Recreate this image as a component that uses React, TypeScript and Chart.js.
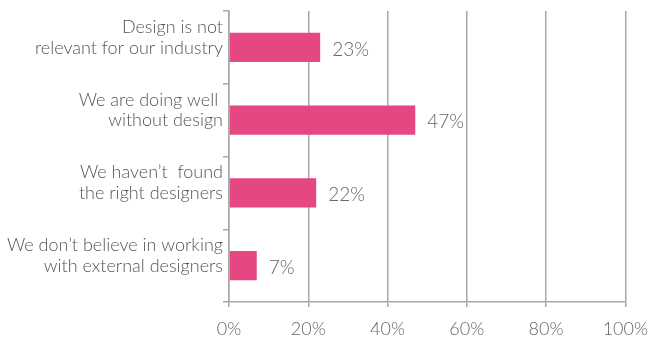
import React, { useEffect, useRef } from "react";
import { Chart, registerables } from "chart.js";

Chart.register(...registerables);

const categories: string[][] = [
  ["Design is not", "relevant for our industry"],
  ["We are doing well ", "without design"],
  ["We haven’t  found", "the right designers"],
  ["We don’t believe in working", "with external designers"],
];
const values: number[] = [23, 47, 22, 7];
const xTicks: number[] = [0, 20, 40, 60, 80, 100];

const FONT = "Lato";
const GRID = "#a8a8a8";
const TEXT = "#555555";

const valueLabels = {
  id: "valueLabels",
  afterDatasetsDraw(chart: any) {
    const ctx = chart.ctx;
    const meta = chart.getDatasetMeta(0);
    ctx.save();
    ctx.font = `300 19px ${FONT}`;
    ctx.fillStyle = "#666666";
    ctx.textAlign = "left";
    ctx.textBaseline = "middle";
    meta.data.forEach((el: any, i: number) => {
      ctx.fillText(values[i] + "%", el.x + 12, el.y + 2);
    });
    ctx.restore();
  },
};

export default function App() {
  const ref = useRef<HTMLCanvasElement>(null);
  useEffect(() => {
    if (!ref.current) return;
    const chart = new Chart(ref.current, {
      type: "bar",
      data: {
        labels: categories,
        datasets: [
          {
            data: values,
            backgroundColor: "#e54783",
            borderWidth: 0,
            barPercentage: 0.4,
            categoryPercentage: 1,
          },
        ],
      },
      options: {
        indexAxis: "y",
        animation: false,
        responsive: false,
        maintainAspectRatio: false,
        layout: { padding: { left: 0, right: 33, top: 11, bottom: 0 } },
        plugins: { legend: { display: false }, tooltip: { enabled: false } },
        scales: {
          x: {
            min: 0,
            max: 100,
            afterBuildTicks: (scale: any) => {
              scale.ticks = xTicks.map((v) => ({ value: v }));
            },
            afterFit: (scale: any) => {
              scale.height = 40;
            },
            grid: {
              color: GRID,
              lineWidth: 1.5,
              tickLength: 5,
            },
            border: { color: GRID, width: 1.5 },
            ticks: {
              color: "#666666",
              font: { family: FONT, size: 18, weight: "300" as any },
              padding: 11,
              callback: (v: any) => v + "%",
            },
          },
          y: {
            afterFit: (scale: any) => {
              scale.width = 229;
              scale.paddingTop = 0;
              scale.paddingBottom = 0;
            },
            grid: {
              offset: true,
              drawOnChartArea: false,
              color: GRID,
              lineWidth: 1.5,
              tickLength: 6,
            },
            border: { color: GRID, width: 1.5 },
            ticks: {
              color: TEXT,
              font: { family: FONT, size: 18, weight: "300" as any, lineHeight: 1.15 },
              padding: 0,
              labelOffset: -10,
            },
          },
        },
      },
      plugins: [valueLabels],
    });
    return () => chart.destroy();
  }, []);
  return (
    <div style={{ position: "absolute", left: 0, top: 0, width: 659, height: 342, background: "#fff" }}>
      <canvas ref={ref} width={659} height={342} style={{ width: 659, height: 342 }} />
    </div>
  );
}
